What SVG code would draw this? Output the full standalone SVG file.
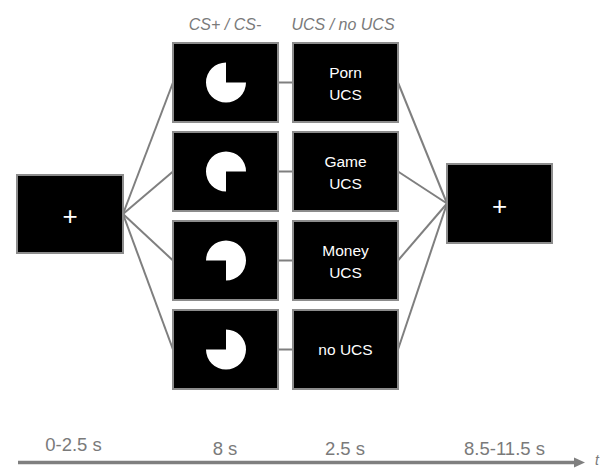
<svg xmlns="http://www.w3.org/2000/svg" width="606" height="468" viewBox="0 0 606 468">
<style>
.box{fill:#000;stroke:#8c8c8c;stroke-width:2}
.lbl{font-family:"Liberation Sans",Arial,sans-serif;font-size:15.5px;fill:#fff;text-anchor:middle}
.plus{font-family:"Liberation Sans",Arial,sans-serif;font-size:26px;fill:#fff;text-anchor:middle}
.hdr{font-family:"Liberation Sans",Arial,sans-serif;font-size:16px;font-style:italic;fill:#7a7a7a;text-anchor:middle}
.tm{font-family:"Liberation Sans",Arial,sans-serif;font-size:18.5px;fill:#7a7a7a;text-anchor:middle}
.pac{fill:#fff}
.con{stroke:#7f7f7f;stroke-width:2;fill:none}
</style>
<rect width="606" height="468" fill="#fff"/>
<g id="connectors">
<line class="con" x1="123" y1="214" x2="173" y2="82.5"/>
<line class="con" x1="123" y1="214" x2="173" y2="171.5"/>
<line class="con" x1="123" y1="214" x2="173" y2="260.5"/>
<line class="con" x1="123" y1="214" x2="173" y2="349.5"/>
<line class="con" x1="278" y1="82.5" x2="293" y2="82.5"/>
<line class="con" x1="278" y1="171.5" x2="293" y2="171.5"/>
<line class="con" x1="278" y1="260.5" x2="293" y2="260.5"/>
<line class="con" x1="278" y1="349.5" x2="293" y2="349.5"/>
<line class="con" x1="398" y1="82.5" x2="447" y2="203.5"/>
<line class="con" x1="398" y1="171.5" x2="447" y2="203.5"/>
<line class="con" x1="398" y1="260.5" x2="447" y2="203.5"/>
<line class="con" x1="398" y1="349.5" x2="447" y2="203.5"/>
</g>
<g id="headers">
<text class="hdr" x="225" y="30">CS+ / CS-</text>
<text class="hdr" x="343" y="30">UCS / no UCS</text>
</g>
<g id="fixation1">
<rect class="box" x="17" y="175" width="106" height="78"/>
<text class="plus" x="70" y="225">+</text>
</g>
<g id="cs1">
<rect class="box" x="173" y="43" width="105" height="79"/>
<path class="pac" d="M226 82.5 L226 62.5 A20 20 0 1 0 246 82.5 Z"/>
</g>
<g id="cs2">
<rect class="box" x="173" y="132" width="105" height="79"/>
<path class="pac" d="M226 171.5 L246 171.5 A20 20 0 1 0 226 191.5 Z"/>
</g>
<g id="cs3">
<rect class="box" x="173" y="221" width="105" height="79"/>
<path class="pac" d="M226 260.5 L226 280.5 A20 20 0 1 0 206 260.5 Z"/>
</g>
<g id="cs4">
<rect class="box" x="173" y="310" width="105" height="79"/>
<path class="pac" d="M226 349.5 L206 349.5 A20 20 0 1 0 226 329.5 Z"/>
</g>
<g id="ucs1">
<rect class="box" x="293" y="43" width="105" height="79"/>
<text class="lbl" x="345.5" y="78">Porn</text>
<text class="lbl" x="345.5" y="100">UCS</text>
</g>
<g id="ucs2">
<rect class="box" x="293" y="132" width="105" height="79"/>
<text class="lbl" x="345.5" y="167">Game</text>
<text class="lbl" x="345.5" y="189">UCS</text>
</g>
<g id="ucs3">
<rect class="box" x="293" y="221" width="105" height="79"/>
<text class="lbl" x="345.5" y="256">Money</text>
<text class="lbl" x="345.5" y="278">UCS</text>
</g>
<g id="ucs4">
<rect class="box" x="293" y="310" width="105" height="79"/>
<text class="lbl" x="345.5" y="354.5">no UCS</text>
</g>
<g id="fixation2">
<rect class="box" x="447" y="164" width="105" height="79"/>
<text class="plus" x="499.5" y="214.5">+</text>
</g>
<g id="timeline">
<line x1="18" y1="462.5" x2="576" y2="462.5" stroke="#7f7f7f" stroke-width="3.5"/>
<polygon points="574,457.5 585,462.5 574,467.5" fill="#7f7f7f"/>
<text class="tm" x="73.5" y="451">0-2.5 s</text>
<text class="tm" x="225" y="455">8 s</text>
<text class="tm" x="345" y="455">2.5 s</text>
<text class="tm" x="504.5" y="455">8.5-11.5 s</text>
<text x="597" y="465" font-family="Liberation Sans, Arial, sans-serif" font-size="14px" font-style="italic" fill="#7a7a7a" text-anchor="middle">t</text>
</g>
</svg>
